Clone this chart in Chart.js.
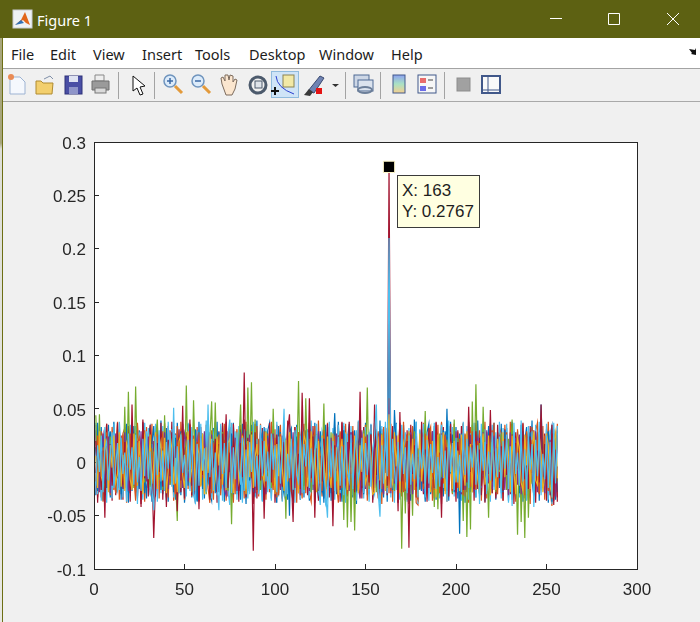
<!DOCTYPE html>
<html><head><meta charset="utf-8">
<script src="https://cdn.jsdelivr.net/npm/chart.js@4"></script>
<style>
html,body{margin:0;padding:0;width:700px;height:622px;overflow:hidden;background:#f0f0f0}
#bar{position:absolute;left:0;top:0;width:700px;height:38px;background:#5d6112}
#menu{position:absolute;left:3px;top:38px;width:697px;height:30px;background:#fff;border-bottom:1px solid #a3a3a3}
#tool{position:absolute;left:3px;top:101px;width:697px;height:1px;background:#a9a9a9}
#s1{position:absolute;left:0;top:38px;width:2px;height:584px;background:linear-gradient(#a8a67c 0,#a8a67c 18%,#dedfd8 19%,#e8e8e4 100%)}
#s2{position:absolute;left:2px;top:38px;width:1px;height:584px;background:#6d6f14}
.t{position:absolute;font:14.5px "Noto Sans",sans-serif;white-space:pre;line-height:20px}
.m{top:44px;color:#1c1c1c}
#title{left:37px;top:10px;color:#fff}
#c{position:absolute;left:0;top:0;width:700px;height:622px}
#tip{position:absolute;left:397px;top:175px;width:81px;height:51px;background:#ffffe1;border:1px solid #3a3a3a;font:17px "Liberation Sans",sans-serif;color:#1e1e1e;line-height:21px;padding:0}
#tip div{position:absolute;left:4px;white-space:pre}
svg{position:absolute;left:0;top:0}
</style></head><body>
<div id="bar"></div><div id="menu"></div><div id="tool"></div><div id="s1"></div><div id="s2"></div>
<span class="t" id="title">Figure 1</span>
<span class="t m" style="left:11px">File</span><span class="t m" style="left:50px">Edit</span><span class="t m" style="left:93px">View</span><span class="t m" style="left:142px">Insert</span><span class="t m" style="left:195px">Tools</span><span class="t m" style="left:249px">Desktop</span><span class="t m" style="left:319px">Window</span><span class="t m" style="left:391px">Help</span>
<svg width="700" height="110" viewBox="0 0 700 110">
<rect x="13" y="10" width="19" height="18" fill="#eef1f5" stroke="#c9ccd2"/><path d="M15 25l6-5 4-8 5 13-4-2-3-3z" fill="#e2661b"/><path d="M15 25l6-5 3 3z" fill="#2f6fb5"/>
<path d="M550 18.500h12M608.500 13.500h11v11h-11zM667 13l12 12M679 13l-12 12" stroke="#fff" fill="none"/>
<path d="M689 49l6 1 1-2v7l-5-1 1-1z" fill="#111"/>
<rect x="271.500" y="71.500" width="27" height="26" fill="#cfe4f7" stroke="#90bbdd"/>
<g stroke="#a3a3a3"><path d="M118.500 72v27M154.500 72v27M345.500 72v27M380.500 72v27M444.500 72v27"/></g>
<path d="M10 77h10l5 5v12H10z" fill="#f5f8fd" stroke="#9db3d2"/><circle cx="11" cy="77" r="3" fill="#e98b55"/>
<path d="M36 81h5l2 2h10l-1 11H36z" fill="#f3cf6d" stroke="#b08b30"/><path d="M44 79l6-3 3 3" stroke="#7f8fa8" fill="none"/>
<rect x="65" y="76" width="17" height="18" fill="#4a4fa5" stroke="#2e3278"/><rect x="69" y="76" width="9" height="6" fill="#dfe3f2"/><rect x="69" y="87" width="9" height="7" fill="#8f95c9"/>
<path d="M95 75h9v6h-9z" fill="#eee" stroke="#888"/><path d="M92 81h17v9H92z" fill="#9a9a9a" stroke="#6f6f6f"/><rect x="95" y="88" width="11" height="5" fill="#dadada" stroke="#777"/>
<path d="M133 76v15l4-3 3 7 3-1-3-7 5-1z" fill="#fff" stroke="#111"/>
<g fill="#dcebfa" stroke="#6f94bd" stroke-width="1.500"><circle cx="170" cy="81" r="6"/><circle cx="198" cy="81" r="6"/></g>
<path d="M175 86l7 7M203 86l7 7" stroke="#e39a3b" stroke-width="3"/><path d="M167 81h6M170 78v6M195 81h6" stroke="#3b6aa5" stroke-width="1.500"/>
<path d="M222 84l-1-6 2-1 2 4 0-6 3 0 1 5 1-5 3 1-0 6 2-3 2 1-2 9-3 6h-6z" fill="#fbe6cf" stroke="#7c6b5d"/>
<circle cx="258" cy="85" r="8" fill="none" stroke="#4c5a6c" stroke-width="3"/><rect x="255" y="81" width="7" height="7" fill="#dfe4ea" stroke="#4c5a6c"/>
<rect x="283" y="75" width="11" height="12" fill="#f2e9a6" stroke="#8b8455"/><path d="M275 87v8M279 91h-8" stroke="#111" stroke-width="2"/><path d="M276 76q1 12 18 18" stroke="#2b3fd0" fill="none"/>
<path d="M308 91l12-15 4 2-10 15z" fill="#6f83b3" stroke="#3b4a70"/><path d="M304 95l5-6 4 3-3 4z" fill="#3a3a3a"/><rect x="316" y="88" width="6" height="6" fill="#e41313"/>
<path d="M332 84h7l-3.500 3z" fill="#333"/>
<rect x="354" y="75" width="15" height="12" fill="#cdd7e6" stroke="#4f6a94"/><rect x="358" y="80" width="15" height="11" fill="#dbe3ee" stroke="#4f6a94"/><ellipse cx="365" cy="90" rx="7" ry="3" fill="none" stroke="#6c7f9a" stroke-width="2"/>
<defs><linearGradient id="g" x1="0" y1="0" x2="0" y2="1"><stop offset="0" stop-color="#8da2f0"/><stop offset=".5" stop-color="#a9e2c4"/><stop offset="1" stop-color="#f5cf8f"/></linearGradient></defs>
<rect x="393" y="75" width="12" height="18" fill="url(#g)" stroke="#41588a"/>
<rect x="418" y="75" width="18" height="18" fill="#f6f6f6" stroke="#41588a"/><rect x="420" y="78" width="6" height="5" fill="#e86b6b"/><rect x="420" y="86" width="6" height="5" fill="#6b6be8"/><path d="M428 80h5M428 88h5" stroke="#444"/>
<rect x="457" y="78" width="13" height="13" fill="#a1a1a1" stroke="#8d8d8d"/>
<rect x="482" y="76" width="18" height="17" fill="#fafafa" stroke="#41588a" stroke-width="2"/><path d="M488 77v15M482 90h18" stroke="#41588a"/>
</svg>
<canvas id="c" width="700" height="622"></canvas>
<div id="tip"><div style="top:4px">X: 163</div><div style="top:25px">Y: 0.2767</div></div>
<script>
const tipX = 163, tipY = 0.2767;
const xTicks = [0,50,100,150,200,250,300];
const yTicks = [-0.1,-0.05,0,0.05,0.1,0.15,0.2,0.25,0.3];
// series values in thousandths, for x = 1..256
const blue = [14,-27,8,-19,23,-10,-24,17,29,-6,-22,11,-15,26,-30,5,20,-13,-28,24,9,-18,27,-3,-25,16,12,-29,7,22,-21,18,
34,-16,-8,25,-26,13,-11,28,-20,6,19,-28,23,-5,-14,29,-24,10,17,-22,27,-9,-31,15,-37,21,8,-25,26,-12,-18,24,
-7,20,-29,14,28,-19,9,-23,25,-13,-4,27,-30,16,11,-21,24,-10,-26,29,6,-17,22,-28,13,-8,-24,18,27,-15,-20,25,
-12,9,23,-27,15,-5,28,-20,-30,19,11,-50,26,-16,-8,24,-25,12,29,-22,7,-13,20,-28,25,-10,-18,27,14,-24,-34,21,
-11,26,-29,8,46,-17,-7,22,-27,30,-14,10,-23,28,6,-21,-26,18,25,-12,-30,15,9,-18,27,-4,-24,20,-16,29,-28,11,
23,-20,150,-8,-26,49,12,-31,28,-15,-22,16,-10,27,25,-29,40,-6,-18,21,-27,13,24,-12,9,-25,28,-19,5,-30,22,-16,
30,-22,50,-13,-8,26,-28,14,19,-67,27,-11,6,-23,29,-18,-25,12,24,-9,-30,21,15,-16,-6,28,-26,11,23,-20,-14,25,
8,-28,30,-19,13,-10,27,-24,-5,20,-29,16,25,-13,-22,9,28,-17,-31,24,11,-26,54,-7,-21,18,29,-12,-37,15,23,-28];
const orange = [-18,25,6,-23,14,-8,28,-26,11,19,-15,-29,22,7,-12,26,-24,13,-5,27,-20,9,-28,17,23,-11,-27,30,4,-16,21,-25,
10,-21,26,-14,-3,29,-27,15,8,-19,24,-11,-30,18,12,-24,27,-6,-17,22,5,-28,25,-13,-9,28,-22,16,11,-26,-4,23,
-29,17,13,-10,26,-25,7,21,-18,-7,28,-23,15,-30,24,-12,3,27,-20,10,-27,19,-15,25,8,-28,22,-6,-13,29,-24,14,
18,-9,-26,23,5,-31,27,-16,11,-21,25,-7,-28,20,13,-23,28,-14,-2,24,-29,9,17,-19,26,-12,-25,22,6,-27,30,-10,
-15,21,12,-28,25,-8,-20,27,-24,16,4,-30,23,-11,19,-26,28,-5,-17,13,-27,24,9,-22,26,-30,-14,18,29,-7,-25,11,
20,-16,35,-27,7,24,-13,-21,28,-10,-28,15,26,-24,3,-18,22,-30,-35,17,11,-25,27,-8,-19,29,-12,-26,23,6,-29,14,
-20,25,9,-14,28,-27,16,-6,-24,22,10,-31,27,-17,12,-23,29,-9,-26,20,5,-18,25,-28,14,-11,-21,30,-13,7,-30,24,
17,-25,4,28,-19,-12,23,-28,10,26,-22,-7,15,-31,29,-16,-24,21,8,-13,27,-29,12,-20,25,-4,-27,18,-34,22,-10,26];
const yellow = [6,-24,29,-13,-20,22,10,-28,16,-5,25,-19,-11,28,-23,7,-27,18,12,-16,-26,27,3,-22,20,-9,-30,24,15,-14,26,-20,
-2,28,-25,9,19,-17,23,-29,-7,26,13,-21,4,-28,20,25,-12,-24,11,29,-19,-6,22,-27,16,8,-23,27,-30,14,-10,25,
12,-27,-16,24,-3,29,-21,10,-26,18,22,-11,-29,6,27,-18,-8,25,13,-30,20,-14,26,-24,5,17,-28,23,-9,-19,28,-2,
-22,26,11,-30,17,-13,24,-6,-27,21,-18,28,9,-25,15,-4,-29,23,-11,26,19,-23,-7,29,-16,12,-28,20,-20,25,3,-26,
24,-10,-24,27,-19,14,-31,8,22,-15,28,-26,-3,18,-22,25,11,-29,16,-9,27,-20,-13,24,6,-30,-28,13,21,-17,26,-5,
-27,19,45,-12,-21,28,-4,25,-29,10,18,-24,-16,29,-8,22,-26,14,-31,27,-18,7,-23,25,12,-28,20,-11,-33,26,-15,9,
28,-30,-6,23,15,-25,20,-19,11,-27,26,-7,-22,29,-13,17,-28,24,4,-16,-29,12,27,-21,-10,25,-31,19,-5,-26,22,8,
-23,28,-14,18,9,-28,25,-8,-30,22,14,-19,-27,26,-3,20,-25,11,29,-17,-21,24,7,-28,-12,27,16,-23,-30,19,28,-15];
const purple = [-10,22,-28,17,26,-20,-5,24,-29,13,-17,27,8,-24,19,-21,28,-12,-27,10,25,-6,-23,20,-16,29,-26,4,-18,24,12,-30,
20,-27,-14,23,7,-22,28,-10,-25,16,26,-7,-29,21,-13,11,-24,27,19,-18,-4,25,-30,12,22,-26,8,-15,29,-23,17,-11,
26,-21,5,-28,18,24,-12,-26,-31,29,-9,15,-19,23,-27,10,28,-6,-22,17,-25,26,-13,21,-29,8,-16,28,11,-20,-30,23,
-14,4,27,-23,19,-9,-26,25,12,-29,20,-17,-5,28,-24,13,21,-31,-10,26,-19,6,-27,24,16,-22,-12,29,-28,10,18,-25,
9,-24,23,-18,-6,27,-29,14,25,-11,-21,19,-27,28,7,-16,20,-23,-34,30,-13,-25,26,-4,11,-28,22,-19,-9,27,-17,-30,
28,-8,60,-29,14,-20,25,-23,11,26,-27,-5,19,-16,28,-30,8,24,-12,-22,27,-28,-15,18,-24,10,29,-6,-21,13,-26,27,
-11,20,-27,8,24,-23,-14,29,-5,17,-30,22,-26,10,-18,26,-12,-28,15,23,-7,-24,28,-29,30,-19,9,-25,25,-12,-22,18,
11,-6,-26,24,-31,28,-15,7,23,-21,26,-30,13,-9,27,-25,19,-11,-24,29,-28,12,22,-16,-29,25,-8,21,-19,27,-32,-4];
const green = [44,-12,45,-20,8,-25,19,-9,24,-18,6,-27,14,-3,21,-15,52,-22,66,-10,30,-24,71,-6,17,-29,11,-19,26,-8,-23,13,
-5,22,40,-16,9,-26,44,-11,18,-21,5,27,-14,-55,23,-7,16,-24,72,-13,20,-28,58,-4,12,-19,25,-9,15,-30,7,22,
57,-17,56,-12,10,-23,28,-6,19,-27,13,-58,24,-2,-20,17,54,-15,9,-25,70,-8,75,-18,40,-11,21,-26,6,-22,29,-13,
16,-24,50,-5,12,-29,23,-10,18,-53,25,-16,8,-21,27,-7,76,-19,14,-26,60,-3,22,-28,11,-14,26,-20,5,-9,55,-23,
17,-12,28,-27,9,-18,24,-6,13,-54,20,-61,15,-56,7,-64,25,-11,18,-22,30,-9,70,-25,12,-16,23,-28,6,-13,27,-19,
14,-24,60,-8,20,-27,10,-15,26,-81,17,-48,22,-12,7,-50,29,-20,13,-26,24,-5,48,-18,11,-23,19,-42,9,-44,27,-14,
16,-25,21,-7,12,-29,40,-10,23,-19,8,-55,26,-70,15,-63,57,-17,73,-11,18,-24,52,-6,10,-52,25,-21,14,-28,20,-9,
27,-16,11,-26,22,-4,40,-30,17,-68,24,-56,9,-71,28,-52,13,-20,26,-12,6,-27,19,-15,23,-8,16,-24,10,-29,25,-18];
const lightBlue = [-22,16,-9,25,-28,12,20,-17,6,28,-24,-3,18,-26,23,-11,9,-30,27,-7,14,-21,26,-19,5,-27,22,-13,29,-16,10,-25,
-45,24,-12,30,-18,11,-27,19,-6,28,-23,51,-20,15,-29,26,-10,7,-25,21,-15,29,-31,-37,17,-22,27,-8,13,-28,54,-14,
22,-26,9,-19,-45,30,-11,18,-24,25,40,-29,14,-16,28,-5,-21,23,-27,12,-34,19,-9,26,-23,6,-30,29,-13,20,-18,10,
-25,27,-7,16,-28,24,-20,11,50,-32,8,-15,22,-26,30,-12,-19,25,-29,17,-4,28,-24,13,-21,9,26,-17,-40,23,-10,-30,
-52,29,-14,20,-27,7,24,-22,15,-31,27,-9,-18,26,-25,12,30,-16,-6,23,-29,18,-12,28,-23,10,25,54,-28,-51,16,-20,
29,-13,210,-24,22,-7,-26,19,-18,30,-11,14,-29,25,-21,8,-16,27,-33,12,-6,24,-27,21,-20,17,-10,28,-25,5,-23,26,
-15,11,-30,29,-9,18,-26,23,-19,7,-28,27,-12,22,-24,14,-5,30,-21,16,-32,25,-8,19,-27,10,-17,28,-23,13,-14,24,
-29,20,-6,26,-25,15,-35,29,-11,9,-22,27,-18,12,-30,23,-7,17,-38,21,-13,28,-26,8,-16,25,-24,19,-33,30,-20,27];
const darkRed = [20,-14,9,-26,11,-52,24,-8,17,-22,5,-18,27,-11,13,-25,19,-3,22,-29,54,-10,16,-21,7,-42,40,-15,12,-24,25,-6,
-71,-20,18,-9,26,-23,10,-42,21,-13,28,-4,15,-46,23,-17,53,-27,14,-7,40,-22,8,-30,19,-44,24,-12,6,-19,29,-25,
13,-5,22,-28,17,-16,27,-10,45,-24,9,-20,25,-2,12,-27,18,-14,84,-21,23,-9,15,-83,28,-26,7,-17,20,-53,11,-8,
24,-19,14,-29,26,-6,10,-23,19,-12,29,45,-16,-56,21,-11,8,-25,65,-4,17,-20,60,-15,24,-52,13,-27,6,-18,22,-10,
28,-22,11,-60,16,-8,25,-26,38,-13,9,-21,27,-5,19,-28,14,-17,66,-24,23,-10,7,-19,26,-30,54,-12,15,-25,21,-6,
10,-22,277,-15,24,-9,13,-46,47,-18,8,-27,20,-80,26,-11,16,-23,5,-14,28,-20,12,-29,22,-7,18,-24,38,-10,9,-52,
25,-16,14,-21,27,-4,11,-28,19,-13,23,-26,7,-19,52,-9,16,-25,29,-15,12,-22,6,-29,17,-11,49,-18,10,-24,28,-7,
15,-27,22,-12,9,-20,26,-30,18,-6,13,-23,29,-16,7,-25,24,-10,20,-28,11,-19,54,-14,17,-26,8,-21,27,-36,12,-33];
const blue2 = [-31,37,-4,33,-36,28,-17,35,-33,19,38,-29,-8,31,-35,24,-12,36,-38,21,-27,34,-2,-32,30,-24,37,-10,-34,27,33,-37,
15,-32,35,-19,39,-30,-7,32,-37,25,-13,34,-35,37,11,-31,29,-38,-16,36,23,-33,-5,31,-36,38,-21,27,-34,13,35,-29,
-36,32,-12,38,-28,-3,34,-37,29,-18,33,-33,37,-9,-30,26,-35,36,14,-39,31,-22,35,-6,-32,39,-27,17,-36,33,-11,30,
37,-34,20,-25,-38,34,8,-31,36,-17,-35,28,32,-37,-4,35,-29,16,38,-33,24,-10,-36,31,-26,37,-19,-34,29,12,-38,35,
-23,33,-36,27,6,-30,38,-15,-37,34,-28,21,36,-9,-33,30,-39,25,32,-24,-13,37,-31,18,35,-35,-5,29,-27,39,-20,-33,
34,-37,40,-16,30,-29,37,-38,11,-22,35,-31,26,-7,-36,33,-25,38,-34,19,31,-12,-37,28,36,-30,-17,34,-35,23,-3,37,
-32,29,14,-36,38,-26,-10,33,-34,27,-21,36,-38,5,31,-28,35,-14,-33,39,-19,24,30,-37,-6,34,-31,22,37,-35,16,-24,
36,-30,-11,32,-36,26,38,-18,-34,29,-8,35,-37,20,33,-25,-13,39,-32,17,28,-36,37,-3,-29,31,-38,25,34,-22,-35,30];
const orange2 = [35,-33,-12,29,-37,21,36,-8,-31,33,-26,15,38,-35,-4,27,32,-38,18,-24,34,-14,-36,37,9,-30,25,-37,33,-19,-28,36,
-38,12,31,-34,26,-22,37,-6,-33,30,17,-36,-11,34,-29,38,4,-35,28,-25,36,-32,19,-13,33,-37,27,8,-30,35,-24,-38,
30,-35,37,-15,22,-31,-7,36,-36,25,33,-20,-38,13,31,-27,35,-9,-34,38,-23,16,29,-37,-3,34,-32,36,-18,10,-35,27,
-28,38,-21,31,-33,14,35,-36,5,-26,37,-30,24,-12,33,-38,28,-17,-34,36,-8,30,-29,-37,20,34,-23,39,-15,-32,26,-36,
37,-27,3,-35,33,-20,-38,29,16,-31,36,-11,27,-37,34,-25,-6,38,-33,22,-18,35,-36,10,31,-28,37,-14,-34,25,-39,33,
-10,32,-29,36,-37,24,-21,13,35,-32,38,-7,-35,29,-26,34,18,-38,-40,30,-13,37,-24,-31,27,33,-36,6,-20,35,-33,38,
-17,26,-37,34,-4,-30,36,-23,28,-35,12,37,-32,19,-38,33,-9,-27,35,-21,30,-36,8,38,-34,24,-15,-29,37,-31,-11,32,
27,-36,35,-6,-33,38,-22,17,-37,31,-28,10,36,-34,25,-16,-39,33,-12,29,37,-30,-20,34,-35,7,38,-26,-41,31,-18,36];
const lightBlue2 = [37,-30,24,-36,-9,33,-38,29,14,-34,36,-21,-27,38,11,-33,31,-37,-16,35,-25,6,34,-39,28,-12,-35,37,-20,32,-31,17,
-8,36,-37,23,-29,34,-14,-36,38,-4,31,-33,26,-38,19,-24,35,-11,-32,37,-27,33,8,-39,30,-17,36,-35,-6,39,-22,28,
-34,25,38,-31,-13,36,-36,12,33,-26,-40,37,-18,29,-35,34,5,-38,31,-21,36,-30,-10,38,-33,22,-25,35,-37,16,32,-28,
7,-36,34,-17,38,-32,27,-37,35,-12,-30,36,-24,19,-38,33,9,-35,37,-28,-15,31,-34,39,-5,-31,36,-26,-37,29,21,-39,
-33,38,-19,32,-35,11,35,-29,-7,37,-38,26,-23,34,-31,16,-36,39,-13,28,-34,33,-3,-37,36,-24,-30,31,-27,-38,34,-10,
38,-29,100,-33,18,-38,36,-20,-35,35,-14,28,-37,32,-30,12,-26,38,-39,31,-9,36,-33,24,-36,29,-16,37,-31,7,-34,35,
-24,18,-37,39,-11,33,-32,30,-28,15,-36,38,-21,34,-35,27,-6,37,-33,23,-39,36,-13,31,-30,19,-37,35,-26,28,-18,38,
-34,32,-8,36,-38,25,-41,37,-15,21,-33,39,-27,17,-36,34,-10,29,-42,35,-23,38,-31,12,-28,36,-35,30,-39,37,-25,34];
const darkRed2 = [30,-38,13,-33,27,-29,36,-16,28,-36,11,-31,37,-19,25,-35,33,-7,34,-37,23,-22,29,-34,18,-39,38,-24,21,-32,35,-12,
-36,-30,32,-15,37,-35,20,-33,34,-21,38,-10,27,-37,31,-28,36,-34,24,-13,35,-31,17,-38,30,-36,33,-18,12,-27,39,-35,
25,-11,34,-38,29,-24,37,-17,38,-32,19,-30,36,-8,26,-37,31,-22,40,-33,35,-16,28,-39,36,-34,15,-25,32,-36,23,-14,
37,-29,27,-38,35,-13,22,-34,31,-20,38,36,-26,-37,33,-18,17,-35,39,-10,30,-31,37,-23,34,-38,25,-36,14,-28,32,-16,
36,-33,21,-39,28,-15,35,-37,37,-24,18,-32,38,-11,29,-36,26,-27,39,-34,33,-19,16,-30,35,-38,37,-21,27,-35,31,-12,
20,-31,120,-26,34,-17,24,-38,37,-28,15,-36,30,-39,35,-20,27,-33,12,-25,38,-30,22,-37,32,-14,29,-34,37,-19,18,-39,
33,-27,24,-32,36,-10,21,-37,30,-23,34,-35,16,-28,38,-18,26,-36,37,-25,23,-31,13,-38,28,-20,36,-29,19,-34,35,-15,
26,-36,31,-22,18,-30,36,-39,28,-13,24,-33,37,-26,15,-35,34,-18,30,-38,21,-29,38,-24,27,-36,17,-31,35,-40,22,-37];
const colors = {blue:'#0072BD',orange:'#D95319',yellow:'#EDB120',purple:'#7E2F8E',green:'#77AC30',lightBlue:'#4DBEEE',darkRed:'#A2142F'};
const pts = a => a.map((v,i)=>({x:i+1,y:v/1000}));
const line = (a,c) => ({type:'line',data:pts(a),borderColor:c,borderWidth:1.2,pointRadius:0,tension:0,fill:false});
const ink = '#262626';
const fixW = w => s => { s.width = w; };
const fixH = h => s => { s.height = h; };
const paper = {id:'paper',beforeDraw(ch){const a=ch.chartArea,g=ch.ctx;g.save();g.fillStyle='#fff';g.fillRect(a.left,a.top,a.right-a.left,a.bottom-a.top);g.restore();}};
new Chart(document.getElementById('c'),{
 type:'line',
 data:{datasets:[
  {type:'scatter',data:[{x:tipX,y:tipY}],pointStyle:'rect',pointRadius:8,pointBackgroundColor:'#000',pointBorderColor:'#fff8c8',pointBorderWidth:1,showLine:false},
  line(lightBlue,colors.lightBlue),line(yellow,colors.yellow),line(darkRed,colors.darkRed),line(orange,colors.orange),line(purple,colors.purple),line(green,colors.green),line(blue,colors.blue),
  line(lightBlue2,colors.lightBlue),line(darkRed2,colors.darkRed),line(orange2,colors.orange),line(blue2,colors.blue)
 ]},
 plugins:[paper],
 options:{
  responsive:false,animation:false,devicePixelRatio:1,
  layout:{padding:{left:44,right:63,top:142,bottom:13}},
  plugins:{legend:{display:false},tooltip:{enabled:false}},
  scales:{
   x:{type:'linear',position:'bottom',min:0,max:300,afterBuildTicks:s=>{s.ticks=xTicks.map(v=>({value:v}));},afterFit:fixH(40),
      border:{color:ink,width:1},grid:{drawOnChartArea:false,drawTicks:true,tickLength:-5,tickColor:ink,tickWidth:1},
      ticks:{color:ink,font:{family:'"Liberation Sans"',size:17},padding:16,maxRotation:0,autoSkip:false,callback:v=>String(v)}},
   y:{type:'linear',position:'left',min:-0.1,max:0.3,afterBuildTicks:s=>{s.ticks=yTicks.map(v=>({value:v}));},afterFit:fixW(50),
      border:{color:ink,width:1},grid:{drawOnChartArea:false,drawTicks:true,tickLength:-5,tickColor:ink,tickWidth:1},
      ticks:{color:ink,font:{family:'"Liberation Sans"',size:17},padding:13,labelOffset:2,autoSkip:false,callback:v=>String(v)}},
   x2:{axis:'x',type:'linear',position:'top',min:0,max:300,afterFit:fixH(0),border:{color:ink,width:1},grid:{drawOnChartArea:false,drawTicks:false},ticks:{display:false}},
   y2:{axis:'y',type:'linear',position:'right',min:-0.1,max:0.3,afterFit:fixW(0),border:{color:ink,width:1},grid:{drawOnChartArea:false,drawTicks:false},ticks:{display:false}}
  }
 }
});
</script>
</body></html>
